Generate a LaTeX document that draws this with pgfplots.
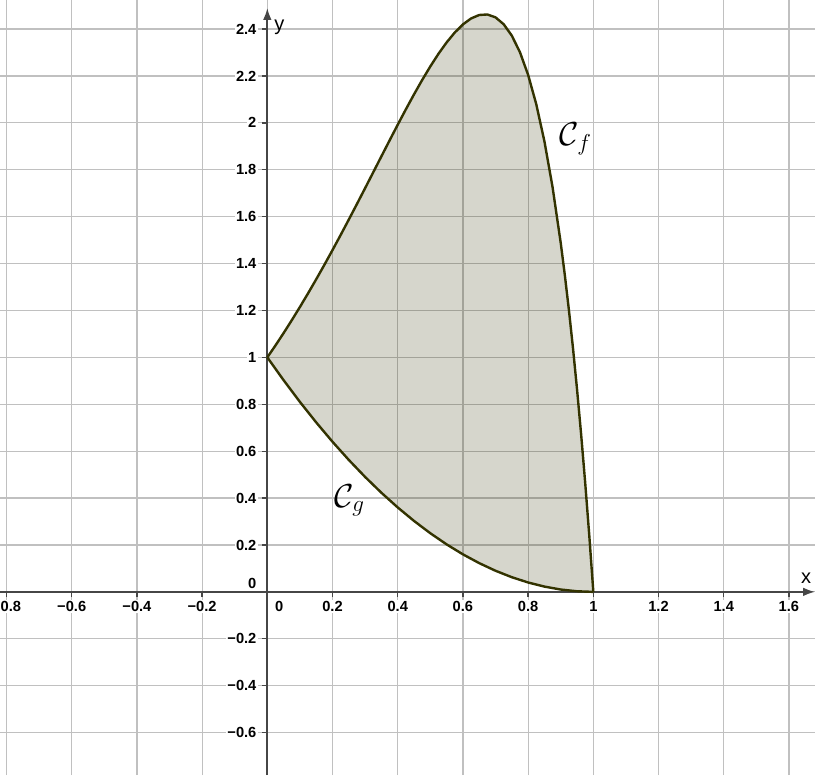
\documentclass[border=0pt]{standalone}
\usepackage{pgfplots}
\pgfplotsset{compat=1.18}
\usepgfplotslibrary{fillbetween}
\usetikzlibrary{arrows.meta}
\usepackage{fontspec}
\setmainfont{Liberation Sans}

\definecolor{gridc}{RGB}{192,192,192}
\definecolor{axc}{RGB}{70,70,70}
\definecolor{curvec}{RGB}{51,51,0}

% C_f : upper curve
\pgfplotstableread{
x y
0 1
0.025 1.0509
0.05 1.1037
0.075 1.1584
0.1 1.2149
0.125 1.2731
0.15 1.3331
0.175 1.3946
0.2 1.4577
0.225 1.5221
0.25 1.5878
0.275 1.6544
0.3 1.7217
0.325 1.7895
0.35 1.8575
0.375 1.9251
0.4 1.9921
0.425 2.0578
0.45 2.1216
0.475 2.1829
0.5 2.2408
0.525 2.2946
0.55 2.3431
0.575 2.3853
0.6 2.4199
0.625 2.4453
0.65 2.4600
0.675 2.4622
0.7 2.4499
0.725 2.4206
0.75 2.3719
0.775 2.3010
0.8 2.2046
0.825 2.0793
0.85 1.9211
0.875 1.7256
0.9 1.4880
0.9125 1.3517
0.925 1.2029
0.9375 1.0407
0.95 0.8644
0.9625 0.6731
0.975 0.4659
0.9875 0.2418
1 0
}\fdata

% C_g : lower curve
\pgfplotstableread{
x y
0 1
0.05 0.9025
0.1 0.81
0.15 0.7225
0.2 0.64
0.25 0.5625
0.3 0.49
0.35 0.4225
0.4 0.36
0.45 0.3025
0.5 0.25
0.55 0.2025
0.6 0.16
0.65 0.1225
0.7 0.09
0.75 0.0625
0.8 0.04
0.85 0.0225
0.9 0.01
0.95 0.0025
1 0
}\gdata

\begin{document}
\begin{tikzpicture}
\begin{axis}[
    set layers,
    scale only axis,
    width=611.25pt, height=581.25pt,
    xmin=-0.820, xmax=1.680,
    ymin=-0.781, ymax=2.524,
    axis lines=middle,
    axis line style={axc, line width=1.3pt},
    x axis line style={-{Latex[length=9pt,width=6.5pt]}},
    y axis line style={-{Latex[length=9pt,width=6.5pt]}, shorten >=6pt},
    grid=major,
    grid style={gridc, line width=0.9pt},
    hide obscured x ticks=false,
    hide obscured y ticks=false,
    xtick={-0.8,-0.6,-0.4,-0.2,0.2,0.4,0.6,0.8,1,1.2,1.4,1.6},
    xticklabels={−0.8,−0.6,−0.4,−0.2,0.2,0.4,0.6,0.8,1,1.2,1.4,1.6},
    ytick={-0.6,-0.4,-0.2,0.2,0.4,0.6,0.8,1,1.2,1.4,1.6,1.8,2,2.2,2.4},
    yticklabels={−0.6,−0.4,−0.2,0.2,0.4,0.6,0.8,1,1.2,1.4,1.6,1.8,2,2.2,2.4},
    extra x ticks={0}, extra x tick labels={0},
    extra x tick style={xticklabel style={xshift=9pt}},
    extra y ticks={0}, extra y tick labels={0},
    extra y tick style={yticklabel style={yshift=6.5pt}},
    major tick length=4pt,
    tick style={axc, line width=1pt},
    tick align=outside,
    ticklabel style={font=\fontsize{11}{13}\selectfont\bfseries, fill=white, inner sep=1pt},
    xticklabel style={yshift=-2pt},
    yticklabel style={xshift=-3pt},
    xlabel={x},
    xlabel style={at={(axis description cs:0.989,0.2477)}, anchor=base, inner sep=0pt,
        font=\fontsize{15}{17}\selectfont},
    ylabel={y},
    ylabel style={at={(axis description cs:0.3362,0.9742)}, anchor=north west, inner sep=0pt,
        rotate=0, font=\fontsize{15}{17}\selectfont},
]
\addplot[name path=cf, draw=curvec, line width=1.8pt, line join=round] table {\fdata};
\addplot[name path=cg, draw=curvec, line width=1.8pt, line join=round] table {\gdata};
\addplot[fill=curvec, fill opacity=0.2, draw=none] fill between[of=cf and cg];

\node[font=\fontsize{23}{26}\selectfont] at (axis cs:0.946,1.93) {$\mathcal{C}_f$};
\node[font=\fontsize{23}{26}\selectfont] at (axis cs:0.253,0.39) {$\mathcal{C}_g$};

\coordinate (bl) at (rel axis cs:0,0);
\coordinate (tr) at (rel axis cs:1,1);
\end{axis}
\pgfresetboundingbox
\path[use as bounding box] (bl) rectangle (tr);
\end{tikzpicture}
\end{document}
